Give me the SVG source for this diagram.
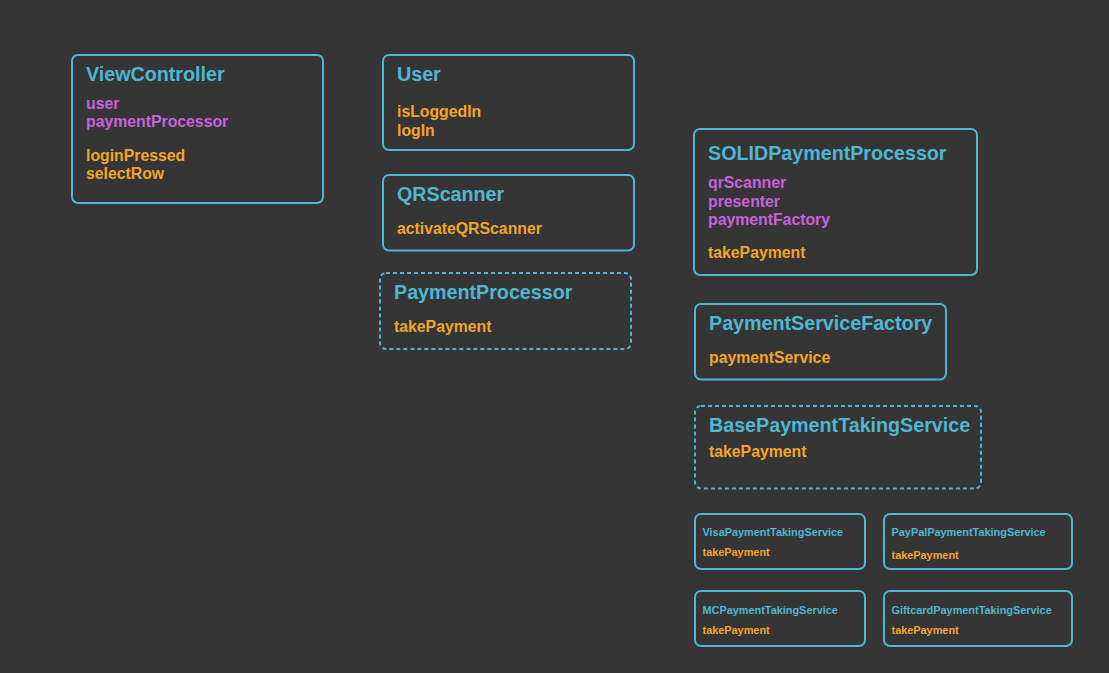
<svg xmlns="http://www.w3.org/2000/svg" width="1109" height="673" viewBox="0 0 1109 673">
<style>
.bg{fill:#353535}
.box{fill:none;stroke:#4fb6d3;stroke-width:2}
.dash{fill:none;stroke:#4fb6d3;stroke-width:2;stroke-dasharray:4 3}
text{font-family:"Liberation Sans",Arial,sans-serif;font-weight:bold}
.t{fill:#4fb6d3;font-size:19.7px}
.ts{fill:#4fb6d3;font-size:10.9px}
.p{fill:#c862da;font-size:15.8px}
.m{fill:#f2a52a;font-size:15.8px}
.ms{fill:#f2a52a;font-size:10.9px}
</style>
<rect class="bg" x="0" y="0" width="1109" height="673"/>
<g id="connectors"></g>
<g id="ViewController">
<rect class="box" x="72" y="55" width="251" height="148" rx="6"/>
<text class="t" x="86" y="81">ViewController</text>
<text class="p" x="86" y="109">user</text>
<text class="p" x="86" y="127">paymentProcessor</text>
<text class="m" x="86" y="161">loginPressed</text>
<text class="m" x="86" y="179">selectRow</text>
</g>
<g id="User">
<rect class="box" x="383" y="55" width="251" height="95" rx="6"/>
<text class="t" x="397" y="81">User</text>
<text class="m" x="397" y="117">isLoggedIn</text>
<text class="m" x="397" y="135.5">logIn</text>
</g>
<g id="QRScanner">
<rect class="box" x="383" y="175" width="251" height="75.5" rx="6"/>
<text class="t" x="397" y="201">QRScanner</text>
<text class="m" x="397" y="234">activateQRScanner</text>
</g>
<g id="PaymentProcessor">
<rect class="dash" x="380" y="273" width="251" height="76" rx="6"/>
<text class="t" x="394" y="299">PaymentProcessor</text>
<text class="m" x="394" y="332">takePayment</text>
</g>
<g id="SOLIDPaymentProcessor">
<rect class="box" x="694" y="129" width="283" height="146" rx="6"/>
<text class="t" x="708" y="159.5">SOLIDPaymentProcessor</text>
<text class="p" x="708" y="188">qrScanner</text>
<text class="p" x="708" y="206.5">presenter</text>
<text class="p" x="708" y="225">paymentFactory</text>
<text class="m" x="708" y="258">takePayment</text>
</g>
<g id="PaymentServiceFactory">
<rect class="box" x="695" y="304" width="251" height="75.5" rx="6"/>
<text class="t" x="709" y="330">PaymentServiceFactory</text>
<text class="m" x="709" y="362.5">paymentService</text>
</g>
<g id="BasePaymentTakingService">
<rect class="dash" x="695" y="406" width="286" height="82.5" rx="6"/>
<text class="t" x="709" y="432">BasePaymentTakingService</text>
<text class="m" x="709" y="457">takePayment</text>
</g>
<g id="VisaPaymentTakingService">
<rect class="box" x="695" y="514" width="170" height="55" rx="6"/>
<text class="ts" x="702.5" y="536">VisaPaymentTakingService</text>
<text class="ms" x="702.5" y="556">takePayment</text>
</g>
<g id="PayPalPaymentTakingService">
<rect class="box" x="884" y="514" width="188" height="55" rx="6"/>
<text class="ts" x="891.5" y="536">PayPalPaymentTakingService</text>
<text class="ms" x="891.5" y="558.5">takePayment</text>
</g>
<g id="MCPaymentTakingService">
<rect class="box" x="695" y="591" width="170" height="55" rx="6"/>
<text class="ts" x="702.5" y="614">MCPaymentTakingService</text>
<text class="ms" x="702.5" y="634">takePayment</text>
</g>
<g id="GiftcardPaymentTakingService">
<rect class="box" x="884" y="591" width="188" height="55" rx="6"/>
<text class="ts" x="891.5" y="614">GiftcardPaymentTakingService</text>
<text class="ms" x="891.5" y="634">takePayment</text>
</g>
</svg>
